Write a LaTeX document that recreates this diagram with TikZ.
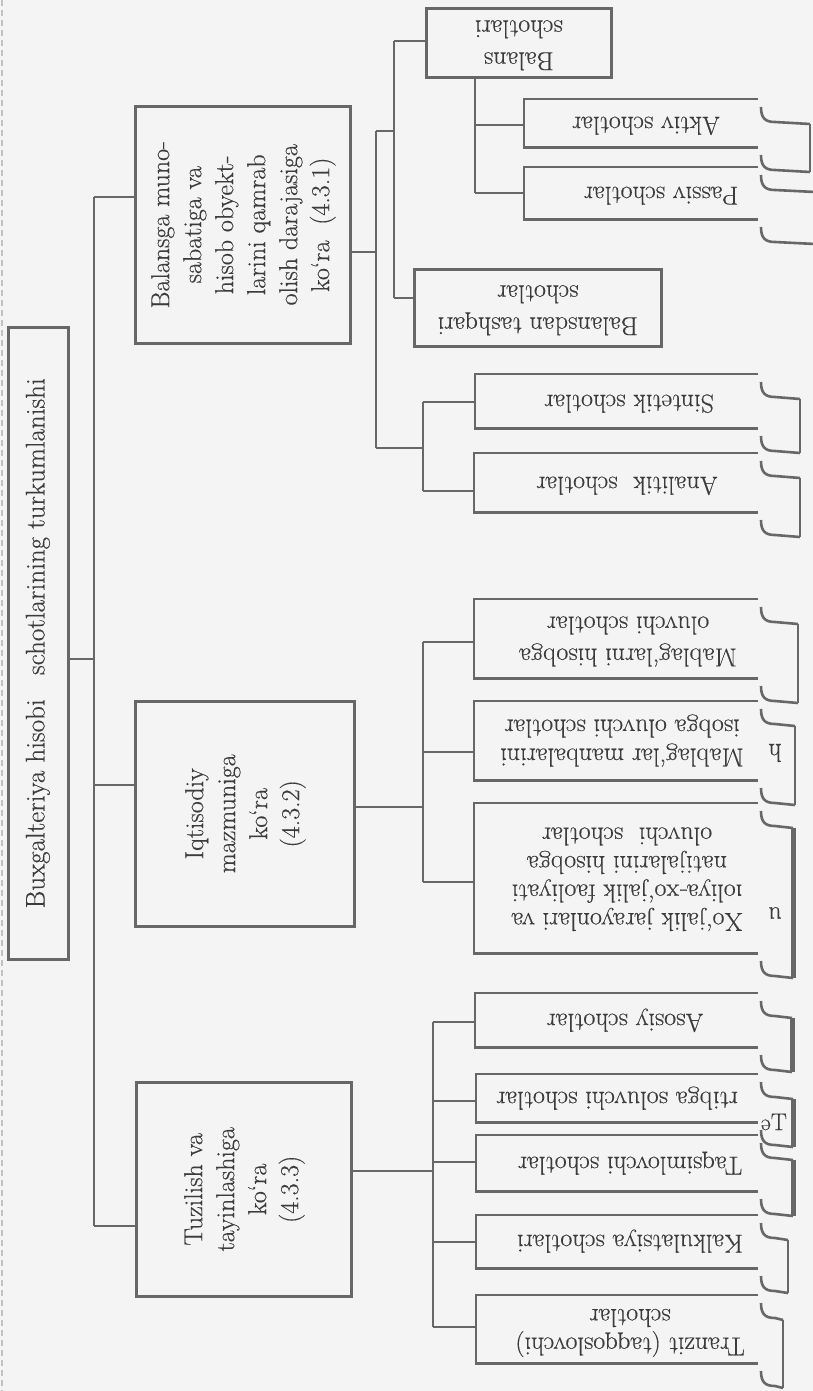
\documentclass[tikz,border=0pt]{standalone}
\usepackage{fontspec}
\setmainfont{Latin Modern Roman}[FakeBold=0.35]
\usepackage{graphicx}
\usetikzlibrary{calc}
\definecolor{paper}{HTML}{F4F4F4}
\definecolor{rule}{HTML}{676767}
\definecolor{ink}{HTML}{3C3C3C}
% text turned upside down / turned to read upwards
\newcommand\turnover[1]{\rotatebox[origin=c]{180}{\begin{tabular}{@{}c@{}}#1\end{tabular}}}
\newcommand\turnleft[1]{\rotatebox[origin=c]{90}{\begin{tabular}{@{}c@{}}#1\end{tabular}}}
% curled page edge at the right end of a box: top, bottom, x of the edge
\newcommand\foldhooks[3]{%
  \draw[wire] (761,#1+8) .. controls (761,#1+19) and (765,#1+23) .. (775,#1+23) -- (#3,#1+25);
  \draw[wire] (761,#2+8) .. controls (761,#2+19) and (765,#2+23) .. (775,#2+23) -- (#3,#2+25);}
\newcommand\foldside[4]{\draw[wire,line width=#4pt] (#3,#1+25) -- (#3,#2+25);}
\begin{document}
\begin{tikzpicture}[x=1pt,y=-1pt,
  wire/.style={draw=rule,line width=2.6pt},
  framebox/.style={draw=rule,line width=2.6pt,rectangle,inner sep=0pt,anchor=north west,text=ink},
  openbox/.style={rectangle,inner sep=0pt,anchor=north west},
  txt/.style={inner sep=0pt,text=ink},
  every node/.style={font=\fontsize{26}{31}\selectfont}]
\path[use as bounding box] (0,0) rectangle (813,1391);
\fill[paper] (0,0) rectangle (813,1391);
\draw[rule!40,line width=1.5pt,dash pattern=on 6pt off 4pt] (2,0) -- (2,1391);

% ---- root and the three groupings
\node[framebox,minimum width=60,minimum height=632,font=\fontsize{27}{31}\selectfont] (root) at (7,326)
  {\turnleft{Buxgalteriya hisobi\ \ \ schotlarining turkumlanishi}};
\node[framebox,minimum width=215,minimum height=237,font=\fontsize{26}{32}\selectfont] (balansga) at (134,105)
  {\turnleft{Balansga muno-\\sabatiga va\\hisob obyekt-\\larini qamrab\\olish darajasiga\\ko‘ra\ \ (4.3.1)}};
\node[framebox,minimum width=219,minimum height=225,font=\fontsize{26}{32}\selectfont] (iqtisod) at (134,700)
  {\turnleft{Iqtisodiy\\mazmuniga\\ko‘ra\\(4.3.2)}};
\node[framebox,minimum width=215,minimum height=214,font=\fontsize{26}{32}\selectfont] (tuzil) at (135,1081)
  {\turnleft{Tuzilish va\\tayinlashiga\\ko‘ra\\(4.3.3)}};

\coordinate (t1) at (94,197);
\coordinate (t2) at (94,659);
\coordinate (t3) at (94,785);
\coordinate (t4) at (94,1226);
\draw[wire] (t1) -- (t4);
\draw[wire] (root.east |- t2) -- (t2);
\draw[wire] (t1) -- (balansga.west |- t1);
\draw[wire] (t3) -- (iqtisod.west |- t3);
\draw[wire] (t4) -- (tuzil.west |- t4);

% ---- balance related accounts
\node[framebox,minimum width=185,minimum height=69] (bals) at (425,7) {};
\node[txt,font=\fontsize{26}{32}\selectfont] (balsT) at (bals.center) {\turnover{Balans\\schotlari}};
\node[framebox,minimum width=247,minimum height=77] (tashq) at (413,268) {};
\node[txt,font=\fontsize{26}{32}\selectfont] (tashqT) at (tashq.center) {\turnover{Balansdan tashqari\\schotlar}};
\node[openbox,minimum width=234,minimum height=48] (aktiv) at (524,99) {};
\node[txt] (aktivT) at (646,123) {\turnover{Aktiv schotlar}};
\node[openbox,minimum width=234,minimum height=52] (passiv) at (524,167) {};
\node[txt] (passivT) at (661,193) {\turnover{Passiv schotlar}};
\node[openbox,minimum width=283,minimum height=54] (sint) at (475,374) {};
\node[txt] (sintT) at (629,401) {\turnover{Sintetik schotlar}};
\node[openbox,minimum width=284,minimum height=59] (anal) at (474,453) {};
\node[txt] (analT) at (627,483) {\turnover{Analitik\ \ schotlar}};

\coordinate (a0) at (376,131);
\coordinate (a1) at (376,252);
\coordinate (a2) at (376,448);
\coordinate (b0) at (394,131);
\coordinate (b1) at (394,41);
\coordinate (b2) at (394,298);
\coordinate (c0) at (475,76);
\coordinate (c1) at (475,125);
\coordinate (c2) at (475,193);
\coordinate (d0) at (423,448);
\coordinate (d1) at (423,402);
\coordinate (d2) at (423,491);
\draw[wire] (balansga.east |- a1) -- (a1);
\draw[wire] (a0) -- (a2);
\draw[wire] (a0) -- (b0);
\draw[wire] (b1) -- (b2);
\draw[wire] (b1) -- (bals.west |- b1);
\draw[wire] (b2) -- (tashq.west |- b2);
\draw[wire] (c0) -- (c2);
\draw[wire] (c1) -- (aktiv.west |- c1);
\draw[wire] (c2) -- (passiv.west |- c2);
\draw[wire] (a2) -- (d0);
\draw[wire] (d1) -- (d2);
\draw[wire] (d1) -- (sint.west |- d1);
\draw[wire] (d2) -- (anal.west |- d2);

% ---- economic content
\node[openbox,minimum width=284,minimum height=79] (mhis) at (474,599) {};
\node[txt,font=\fontsize{26}{32}\selectfont] (mhisT) at (628,639) {\turnover{Mablag‘larni hisobga\\oluvchi schotlar}};
\node[openbox,minimum width=284,minimum height=79] (mman) at (474,701) {};
\node[txt,font=\fontsize{26}{29}\selectfont] (mmanT) at (622,740) {\turnover{Mablag‘lar manbalarini\\isobga oluvchi schotlar}};
\node[openbox,minimum width=284,minimum height=150] (xoj) at (474,803) {};
\node[txt,font=\fontsize{26}{28.5}\selectfont] (xojT) at (627,876) {\turnover{Xo‘jalik jarayonlari va\\ıoliya-xo‘jalik faoliyati\\natijalarini hisobga\\oluvchi\ \ schotlar}};
\node[txt] (strayh) at (775,753) {\rotatebox[origin=c]{180}{h}};
\node[txt] (strayn) at (775,913) {\rotatebox[origin=c]{180}{u}};

\coordinate (e0) at (423,807);
\coordinate (e1) at (423,642);
\coordinate (e2) at (423,752);
\coordinate (e3) at (423,882);
\draw[wire] (iqtisod.east |- e0) -- (e0);
\draw[wire] (e1) -- (e3);
\draw[wire] (e1) -- (mhis.west |- e1);
\draw[wire] (e2) -- (mman.west |- e2);
\draw[wire] (e3) -- (xoj.west |- e3);

% ---- structure and purpose
\node[openbox,minimum width=283,minimum height=54] (asos) at (475,993) {};
\node[txt] (asosT) at (625,1020) {\turnover{Asosiy schotlar}};
\node[openbox,minimum width=282,minimum height=48] (tart) at (476,1074) {};
\node[txt] (tartT) at (617,1098) {\turnover{rtibga soluvchi schotlar}};
\node[txt,font=\fontsize{24}{28}\selectfont] (strayta) at (774,1122) {\rotatebox[origin=c]{180}{e}T};
\node[openbox,minimum width=282,minimum height=56] (taqs) at (476,1135) {};
\node[txt] (taqsT) at (630,1163) {\turnover{Taqsimlovchi schotlar}};
\node[openbox,minimum width=282,minimum height=53] (kalk) at (476,1215) {};
\node[txt] (kalkT) at (630,1241) {\turnover{Kalkulatsiya schotlari}};
\node[openbox,minimum width=282,minimum height=68] (tran) at (476,1295) {};
\node[txt,font=\fontsize{26}{28.5}\selectfont] (tranT) at (630,1329) {\turnover{Tranzit (taqqoslovchi)\\schotlar}};

\coordinate (f0) at (433,1171);
\coordinate (f1) at (433,1022);
\coordinate (f2) at (433,1101);
\coordinate (f3) at (433,1162);
\coordinate (f4) at (433,1242);
\coordinate (f5) at (433,1327);
\draw[wire] (tuzil.east |- f0) -- (f0);
\draw[wire] (f1) -- (f5);
\draw[wire] (f1) -- (asos.west |- f1);
\draw[wire] (f2) -- (tart.west |- f2);
\draw[wire] (f3) -- (taqs.west |- f3);
\draw[wire] (f4) -- (kalk.west |- f4);
\draw[wire] (f5) -- (tran.west |- f5);

% ---- open right ends of the boxes
\foreach \n in {aktiv,passiv,sint,anal,mhis,mman,xoj,asos,tart,taqs,kalk,tran}
  \draw[wire] (\n.north east) -- (\n.north west) -- (\n.south west) -- (\n.south east);

% ---- curled page edge on the right
\foldhooks{99}{147}{810}   \foldside{99}{147}{810}{2.6}
\foldhooks{167}{219}{815}
\foldhooks{374}{428}{800}  \foldside{374}{428}{800}{2.6}
\foldhooks{453}{512}{800}  \foldside{453}{512}{800}{2.6}
\foldhooks{599}{678}{798}  \foldside{599}{678}{798}{2.6}
\foldhooks{701}{780}{795}  \foldside{701}{780}{795}{2.6}
\foldhooks{803}{953}{793}  \foldside{803}{953}{793}{5}
\foldhooks{993}{1047}{792} \foldside{993}{1047}{792}{5}
\foldhooks{1074}{1122}{793} \foldside{1074}{1122}{793}{5}
\foldhooks{1135}{1191}{793} \foldside{1135}{1191}{793}{5}
\foldhooks{1215}{1268}{788} \foldside{1215}{1268}{788}{2.6}
\foldhooks{1295}{1363}{783} \foldside{1295}{1363}{783}{2.6}
\end{tikzpicture}
\end{document}
